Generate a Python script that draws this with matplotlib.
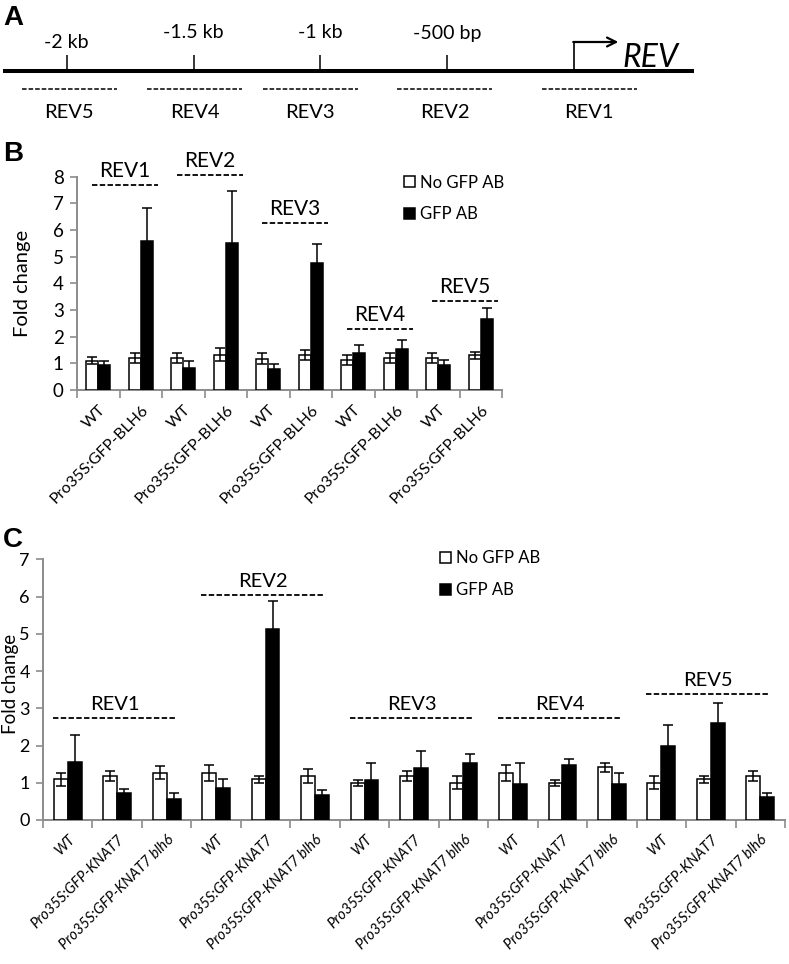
import matplotlib.pyplot as plt
import numpy as np

plt.rcParams['font.family'] = ['Lato', 'DejaVu Sans']

# panel A: promoter map, positions in bp relative to the REV start
map_ticks = [-2000, -1500, -1000, -500]
map_tick_labels = ['-2 kb', '-1.5 kb', '-1 kb', '-500 bp']
amplicons = ['REV1', 'REV2', 'REV3', 'REV4', 'REV5']
amp_centers = [60, -510, -1040, -1495, -1990]
amp_len = 375

# panel B: GFP-BLH6 ChIP
b_labels = ['WT', 'Pro35S:GFP-BLH6'] * 5
b_nogfp = [1.1, 1.2, 1.2, 1.32, 1.18, 1.32, 1.12, 1.2, 1.2, 1.31]
b_nogfp_err = [0.12, 0.18, 0.2, 0.25, 0.2, 0.18, 0.2, 0.17, 0.17, 0.13]
b_gfp = [0.95, 5.58, 0.82, 5.5, 0.77, 4.75, 1.38, 1.52, 0.94, 2.65]
b_gfp_err = [0.15, 1.23, 0.25, 1.96, 0.2, 0.73, 0.3, 0.35, 0.17, 0.44]

# panel C: GFP-KNAT7 ChIP
c_labels = ['WT', 'Pro35S:GFP-KNAT7', 'Pro35S:GFP-KNAT7 blh6'] * 5
c_nogfp = [1.09, 1.18, 1.27, 1.27, 1.09, 1.18, 1.0, 1.18, 1.0, 1.27, 1.0, 1.41, 1.0, 1.09, 1.18]
c_nogfp_err = [0.18, 0.14, 0.18, 0.22, 0.1, 0.18, 0.08, 0.14, 0.17, 0.22, 0.08, 0.13, 0.18, 0.09, 0.14]
c_gfp = [1.57, 0.72, 0.57, 0.85, 5.12, 0.67, 1.07, 1.39, 1.52, 0.98, 1.48, 0.98, 1.99, 2.61, 0.61]
c_gfp_err = [0.7, 0.1, 0.15, 0.24, 0.77, 0.14, 0.46, 0.46, 0.24, 0.55, 0.15, 0.29, 0.55, 0.52, 0.12]

# heights of the dashed region marks
b_rev_y = [7.69, 8.06, 6.25, 2.28, 3.34]
c_rev_y = [2.73, 6.04, 2.73, 2.73, 3.38]

GREY = '#8c8c8c'
W, H = 789, 964

fig = plt.figure(figsize=(W / 100, H / 100), dpi=100)


def letter(txt, ytop):
    fig.text(3 / W, 1 - ytop / H, txt, fontsize=20, fontweight='bold',
             family='Liberation Sans', va='top', ha='left')


# ---- panel A ----
px_per_bp = 0.2536
tss_px = 574
ax_a = fig.add_axes([0, 1 - 125 / H, 1, 125 / H])
ax_a.set_xlim(-tss_px / px_per_bp, (W - tss_px) / px_per_bp)
ax_a.set_ylim(125, 0)
ax_a.axis('off')
ax_a.plot([-2252, 473], [71, 71], color='black', lw=2.9, solid_capstyle='butt')
ax_a.vlines(map_ticks, 55, 71, color='black', lw=1.1)
for t, lbl, ly in zip(map_ticks, map_tick_labels, [43, 33, 33, 33]):
    ax_a.text(t, ly, lbl, ha='center', va='center', fontsize=14)
ax_a.plot([0, 0], [71, 42], color='black', lw=1.2)
ax_a.annotate('', xy=(175, 42), xytext=(-3, 42),
              arrowprops=dict(arrowstyle='->', lw=1.6, color='black', mutation_scale=16,
                              shrinkA=0, shrinkB=0))
ax_a.text(190, 67, 'REV', style='italic', fontsize=23, va='baseline', ha='left')
for name, c in zip(amplicons, amp_centers):
    ax_a.hlines(89, c - amp_len / 2, c + amp_len / 2, color='black', lw=1.1,
                linestyles=(0, (3, 1.3)))
    ax_a.text(c, 112, name, ha='center', va='center', fontsize=14.5)
letter('A', 5)


def bar_panel(ax, labels, nogfp, nogfp_err, gfp, gfp_err, rev_y, per_group, inset, italic,
              xfs, yfs, revfs):
    n = len(labels)
    x = np.arange(n)
    w = 0.28
    ekw = dict(ecolor='black', elinewidth=1.1, capsize=3.8, capthick=1.1, zorder=4)
    ax.bar(x - w / 2, nogfp, w, yerr=nogfp_err, color='white', edgecolor='black',
           linewidth=1.1, error_kw=ekw, label='No GFP AB', zorder=3)
    ax.bar(x + w / 2, gfp, w, yerr=gfp_err, color='black', edgecolor='black',
           linewidth=1.1, error_kw=ekw, label='GFP AB', zorder=3)
    ax.set_xlim(-0.5, n - 0.5)
    for s in ['top', 'right']:
        ax.spines[s].set_visible(False)
    for s in ['left', 'bottom']:
        ax.spines[s].set_color(GREY)
        ax.spines[s].set_linewidth(1.4)
    ax.set_xticks(np.arange(n + 1) - 0.5)
    ax.set_xticklabels([])
    ax.set_xticks(x, minor=True)
    ax.set_xticklabels(labels, minor=True, rotation=45, ha='right',
                       rotation_mode='anchor', fontsize=xfs,
                       style='italic' if italic else 'normal')
    ax.tick_params(axis='x', which='major', length=6, width=1.2, color=GREY)
    ax.tick_params(axis='x', which='minor', length=0, pad=9)
    ax.tick_params(axis='y', length=5, width=1.2, color=GREY, labelsize=yfs, pad=4.5)
    # dashed region marks with amplicon names
    for k, (name, y) in enumerate(zip(amplicons, rev_y)):
        x0 = k * per_group - 0.5 + inset[0]
        x1 = (k + 1) * per_group - 0.5 - inset[1]
        ax.plot([x0, x1], [y, y], color='black', lw=1.3, linestyle=(0, (3, 1.3)),
                clip_on=False)
        ax.annotate(name, ((x0 + x1) / 2, y), xytext=(0, 10), textcoords='offset points',
                    ha='center', va='center', fontsize=revfs, annotation_clip=False)


# ---- panel B ----
ax_b = fig.add_axes([77 / W, 1 - 390 / H, 425 / W, 213.3 / H])
bar_panel(ax_b, b_labels, b_nogfp, b_nogfp_err, b_gfp, b_gfp_err, b_rev_y, 2,
          (0.35, 0.1), False, 11.5, 13.5, 15)
ax_b.set_ylim(0, 8)
ax_b.set_yticks(range(0, 9))
ax_b.set_ylabel('Fold change', fontsize=14.5)
ax_b.yaxis.set_label_coords(-0.108, 0.5)
ax_b.legend(loc='upper left', bbox_to_anchor=(0.77, 1.01), frameon=False, fontsize=12,
            handlelength=0.65, handleheight=0.65, handletextpad=0.3, labelspacing=0.95,
            borderpad=0, borderaxespad=0)
letter('B', 141)

# ---- panel C ----
ax_c = fig.add_axes([43 / W, 1 - 820 / H, 742 / W, 260.7 / H])
bar_panel(ax_c, c_labels, c_nogfp, c_nogfp_err, c_gfp, c_gfp_err, c_rev_y, 3,
          (0.2, 0.3), True, 10.5, 13, 14.5)
ax_c.set_ylim(0, 7)
ax_c.set_yticks(range(0, 8))
ax_c.set_ylabel('Fold change', fontsize=13.5)
ax_c.yaxis.set_label_coords(-0.033, 0.52)
ax_c.legend(loc='upper left', bbox_to_anchor=(0.535, 1.035), frameon=False, fontsize=12,
            handlelength=0.65, handleheight=0.65, handletextpad=0.3, labelspacing=0.95,
            borderpad=0, borderaxespad=0)
letter('C', 527)

fig.savefig('out.png', dpi=100)
